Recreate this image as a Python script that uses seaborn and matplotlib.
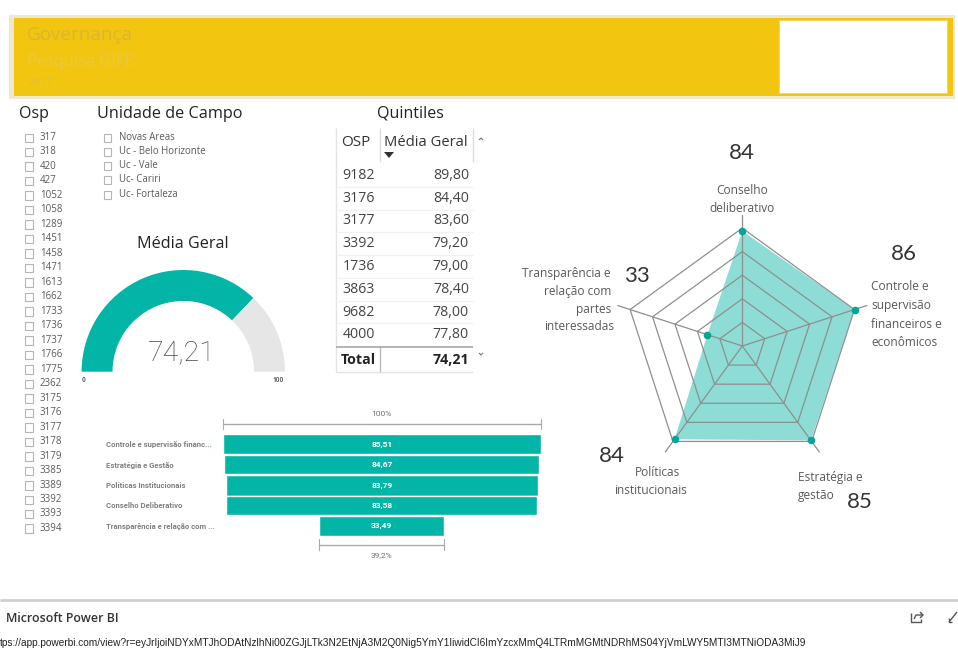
import numpy as np
import pandas as pd
import matplotlib
matplotlib.use("Agg")
import matplotlib.pyplot as plt
from matplotlib.patches import Rectangle
import seaborn as sns

# ---------- data ----------
osp_items = ["317", "318", "420", "427", "1052", "1058", "1289", "1451", "1458", "1471",
             "1613", "1662", "1733", "1736", "1737", "1766", "1775", "2362", "3175", "3176",
             "3177", "3178", "3179", "3385", "3389", "3392", "3393", "3394"]
unidade_items = ["Novas Areas", "Uc - Belo Horizonte", "Uc - Vale", "Uc- Cariri", "Uc- Fortaleza"]
table_osp = ["9182", "3176", "3177", "3392", "1736", "3863", "9682", "4000"]
table_media = ["89,80", "84,40", "83,60", "79,20", "79,00", "78,40", "78,00", "77,80"]
table_total = "74,21"
gauge_value = 74.21
gauge_max = 100
funnel_labels = ["Controle e supervisão financ...", "Estratégia e Gestão", "Políticas Institucionais",
                 "Conselho Deliberativo", "Transparência e relação com ..."]
funnel_values = [85.51, 84.67, 83.79, 83.58, 33.49]
radar_values = [83.58, 85.51, 84.67, 83.79, 33.49]
radar_rings = [25.1, 40.2, 55.3, 70.4, 85.5]
radar_origin = 10.0
radar_spoke = 93.8
radar_top = 96.4

# ---------- style ----------
W, H = 958, 648
TEAL = "#03B5A6"
sns.set_theme(style="white")
plt.rcParams["font.family"] = ["Open Sans", "DejaVu Sans"]
fig = plt.figure(figsize=(W / 100, H / 100), dpi=100, facecolor="white")


def axes_px(x0, y0, x1, y1, **kw):
    ax = fig.add_axes([x0 / W, 1 - y1 / H, (x1 - x0) / W, (y1 - y0) / H], **kw)
    ax.patch.set_alpha(0)
    return ax


bg = axes_px(0, 0, W, H)
bg.set_xlim(0, W)
bg.set_ylim(H, 0)
bg.axis("off")


def T(x, y, s, size=8, color="#333333", ha="left", va="center", **kw):
    return bg.text(x, y, s, fontsize=size, color=color, ha=ha, va=va, **kw)


def R(x0, y0, x1, y1, **kw):
    bg.add_patch(Rectangle((x0, y0), x1 - x0, y1 - y0, **kw))


def L(xs, ys, color="#BBBBBB", lw=1.0):
    bg.plot(xs, ys, color=color, lw=lw, solid_capstyle="butt")


# ---------- header ----------
R(9, 15, 955, 99, facecolor="#EFE8CF", edgecolor="none")
R(14, 18, 953, 96, facecolor="#F2C511", edgecolor="none")
R(779, 20, 948, 94, facecolor="#F5D665", edgecolor="none")
R(780, 21, 947, 93, facecolor="white", edgecolor="none")
T(27, 35, "Governança", 13.6, "#DBB62E")
T(27, 62, "Pesquisa GIFE", 11.8, "#EBC93F")
T(27, 83, "2017", 8.2, "#E3BF38")

# ---------- slicers ----------
T(19, 114, "Osp", 11.5, "#222222")
T(97, 114, "Unidade de Campo", 11.7, "#222222")
for i, s in enumerate(osp_items):
    y = 137.5 + i * 14.48
    R(25.5, y - 4, 33.5, y + 4.5, facecolor="white", edgecolor="#B5B5B5", lw=0.8)
    T(40, y, s, 7, "#5A5A5A")
for i, s in enumerate(unidade_items):
    y = 137 + i * 14.3
    R(104, y - 3.5, 111.5, y + 4.5, facecolor="white", edgecolor="#B5B5B5", lw=0.8)
    T(119, y, s, 6.9, "#5A5A5A")

# ---------- gauge ----------
T(183, 244, "Média Geral", 11.6, "#222222", ha="center")
gax = axes_px(183.3 - 101.7, 371.7 - 101.7, 183.3 + 101.7, 371.7 + 101.7)
gax.pie([gauge_value, gauge_max - gauge_value, gauge_max],
        colors=[TEAL, "#E6E6E6", "none"], startangle=180, counterclock=False,
        radius=1, wedgeprops=dict(width=0.304, linewidth=0))
gax.set_xlim(-1, 1)
gax.set_ylim(-1, 1)
T(181.5, 353, "74,21", 20.5, "#484848", ha="center", family="Roboto", fontweight="light")
T(84, 381, "0", 4.8, "#666666", ha="center", fontweight="bold")
T(278, 381, "100", 4.8, "#666666", ha="center", fontweight="bold")

# ---------- table ----------
T(410, 114, "Quintiles", 11.5, "#222222", ha="center")
L([336, 336], [128, 372], "#E4E4E4")
L([380, 380], [128, 162], "#DDDDDD")
L([473, 473], [128, 162], "#DDDDDD")
L([380, 380], [346, 372], "#BBBBBB")
T(341, 142, "OSP", 11, "#333333")
T(384, 142, "Média Geral", 10.6, "#333333")
bg.fill([384, 394, 389], [152, 152, 158], color="#333333", lw=0)
L([479, 481, 483], [140, 138, 140], "#777777", 0.8)
L([479, 481, 483], [353, 355, 353], "#777777", 0.8)
for i, (a, b) in enumerate(zip(table_osp, table_media)):
    y = 175.5 + i * 22.75
    T(375, y, a, 10.2, "#444444", ha="right")
    T(469, y, b, 10.2, "#444444", ha="right")
    if i:
        L([336, 473], [y - 11.4, y - 11.4], "#F1F1F1")
L([336, 473], [346.5, 346.5], "#A8A8A8", 1.2)
L([336, 473], [372, 372], "#E4E4E4")
T(341, 360, "Total", 10.2, "#222222", fontweight="bold")
T(469, 360, table_total, 10.2, "#222222", ha="right", fontweight="bold")

# ---------- funnel ----------
fax = axes_px(222.5, 434, 541, 536)
df = pd.DataFrame({"etapa": funnel_labels, "valor": funnel_values})
sns.barplot(data=df, y="etapa", x="valor", orient="h", color=TEAL, saturation=1,
            width=0.965, left=-df["valor"].to_numpy() / 2, ax=fax)
fax.set_xlim(-funnel_values[0] / 2, funnel_values[0] / 2)
fax.set_ylim(4.5, -0.5)
fax.set_xlabel("")
fax.set_ylabel("")
fax.set_xticks([])
sns.despine(ax=fax, left=True, bottom=True)
fax.tick_params(axis="y", length=0, pad=84)
for lab in fax.get_yticklabels():
    lab.set_ha("left")
    lab.set_fontsize(5.55)
    lab.set_fontweight("bold")
    lab.set_color("#808080")
    lab.set_family("Roboto")
fax.bar_label(fax.containers[0],
              labels=[f"{v:.2f}".replace(".", ",") for v in funnel_values],
              label_type="center", color="white", fontsize=6, fontweight="bold",
              family="Roboto")
# the third and fourth bars touch in the reference
fax.patches[2].set_height(fax.patches[2].get_height() + 0.04)
half0, half1 = funnel_values[0] / 2, funnel_values[-1] / 2
for half, y, tick, txt, ty in [(half0, -0.99, 0.245, "100%", -1.49),
                               (half1, 4.92, 0.27,
                                f"{funnel_values[-1] / funnel_values[0] * 100:.1f}%".replace(".", ","),
                                5.43)]:
    fax.plot([-half, half], [y, y], color="#AAAAAA", lw=1, clip_on=False)
    fax.plot([-half, -half], [y - tick, y + tick], color="#AAAAAA", lw=0.8, clip_on=False)
    fax.plot([half, half], [y - tick, y + tick], color="#AAAAAA", lw=0.8, clip_on=False)
    fax.text(0, ty, txt, ha="center", va="center", fontsize=6, color="#707070", family="Roboto")

# ---------- radar ----------
rad_px = 135
rax = axes_px(742.3 - rad_px, 346 - rad_px, 742.3 + rad_px, 346 + rad_px, projection="polar")
rax.set_theta_zero_location("N")
rax.set_theta_direction(-1)
theta = np.arange(5) * 2 * np.pi / 5
tc = np.append(theta, theta[0])
for ring in radar_rings:
    rax.plot(tc, [ring] * 6, color="#8F8F8F", lw=0.9, clip_on=False)
for t in theta:
    rax.plot([t, t], [radar_origin, radar_spoke], color="#8F8F8F", lw=0.9, clip_on=False)
rv = np.append(radar_values, radar_values[0])
rax.fill(tc, rv, color=TEAL, alpha=0.45, lw=0)
sns.scatterplot(x=theta, y=radar_values, color="#06A598", s=30, linewidth=0, ax=rax,
                clip_on=False, zorder=5)
rax.set_ylim(radar_origin, radar_top)
rax.axis("off")

NUM = dict(family="Lato", color="#333333")
T(742, 153, "84", 16, ha="center", **NUM)
T(904, 254, "86", 16, ha="center", **NUM)
T(637, 276, "33", 16, ha="center", **NUM)
T(612, 456, "84", 16, ha="center", **NUM)
T(860, 502, "85", 16, ha="center", **NUM)
LAB = dict(color="#5A5A5A", size=8.6)
T(742, 190.5, "Conselho", ha="center", **LAB)
T(742, 208, "deliberativo", ha="center", **LAB)
for y, s in zip([287, 305.5, 324, 342], ["Controle e", "supervisão", "financeiros e", "econômicos"]):
    T(871, y, s, **LAB)
for y, s, x in zip([273.5, 291.5, 309.5, 327],
                   ["Transparência e", "relação com", "partes", "interessadas"],
                   [611, 611, 611, 614]):
    T(x, y, s, ha="right", **LAB)
T(658, 472, "Políticas", ha="center", **LAB)
T(651, 491, "institucionais", ha="center", **LAB)
T(798, 477, "Estratégia e", **LAB)
T(798, 496, "gestão", **LAB)

# ---------- browser footer ----------
L([0, W], [600, 600], "#CFCFCF", 2)
T(6, 618, "Microsoft Power BI", 8.9, "#333333", fontweight="semibold")
T(0, 643.5,
  "tps://app.powerbi.com/view?r=eyJrIjoiNDYxMTJhODAtNzlhNi00ZGJjLTk3N2EtNjA3M2Q0Nig5YmY1IiwidCI6ImYzcxMmQ4LTRmMGMtNDRhMS04YjVmLWY5MTI3MTNiODA3MiJ9",
  7.3, "#222222", family="Liberation Sans")
# share and expand icons
L([911, 911, 921, 921], [613, 622, 622, 619], "#555555", 1)
L([914, 916, 923], [619, 615, 615], "#555555", 1)
L([920, 923, 920], [612, 615, 618], "#555555", 1)
L([949, 957], [622, 612], "#555555", 1)
L([949, 949, 952], [618, 622, 622], "#555555", 1)

fig.savefig("out.png", dpi=100)
